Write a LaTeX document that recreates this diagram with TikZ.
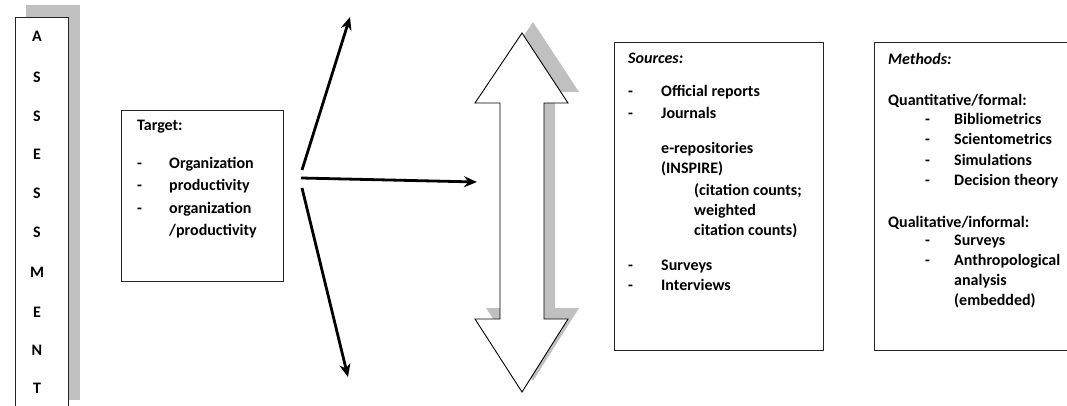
\documentclass[tikz,border=0pt]{standalone}
\usepackage{fontspec}
\setmainfont{Carlito}
\usetikzlibrary{arrows.meta}
\definecolor{shadowgray}{RGB}{192,192,192}
\tikzset{
 txt/.style={anchor=mid west, inner sep=0pt, font=\fontsize{16}{20}\selectfont\bfseries},
 letter/.style={anchor=center, inner sep=0pt, font=\fontsize{16}{20}\selectfont\bfseries},
 frame/.style={draw=black!85, line width=1.3pt, anchor=north west, inner sep=0pt},
 bigarrow/.style={-{Stealth[length=13pt,width=11pt]}, line width=2.8pt},
 shadowfill/.style={fill=shadowgray, draw=none},
 dbl/.style={draw=black, line width=0.9pt, fill=white, line join=miter},
}
\begin{document}
\begin{tikzpicture}[x=1pt,y=-1pt]
\useasboundingbox (0,0) rectangle (1067,406);
% ASSESSMENT column
\path[shadowfill] (26,5) rectangle (80,400);
\node[frame, fill=white, minimum width=53pt, minimum height=400pt] (assess) at (15,17) {};
\foreach \l/\y [count=\i] in {A/36,S/77,S/116,E/154,S/193,S/232,M/272,E/312,N/350,T/388}
  \node[letter] (L\i) at (37,\y) {\l};
% Target box
\node[frame, minimum width=162pt, minimum height=171pt] (target) at (121,110) {};
\node[txt] (tt) at (137,128) {Target:};
\node[txt] (td1) at (137,166) {-};
\node[txt] (t1) at (169,166) {Organization};
\node[txt] (td2) at (137,188) {-};
\node[txt] (t2) at (169,188) {productivity};
\node[txt] (td3) at (137,211) {-};
\node[txt] (t3) at (169,211) {organization};
\node[txt] (t4) at (169,233) {/productivity};
% Arrows
\coordinate (oU) at (302,170);
\coordinate (oM) at (301,178);
\coordinate (oD) at (302,188);
\coordinate (eU) at (350,17);
\coordinate (eM) at (477,182);
\coordinate (eD) at (348,377);
\draw[bigarrow] (oU) -- (eU);
\draw[bigarrow] (oM) -- (eM);
\draw[bigarrow] (oD) -- (eD);
% Double arrow with shadow
\begin{scope}[shift={(11,-11)}]
\path[shadowfill] (522,33) -- (568,103) -- (544,103) -- (544,319) -- (568,319) -- (522,392) -- (475,319) -- (500,319) -- (500,103) -- (475,103) -- cycle;
\end{scope}
\draw[dbl] (522,33) -- (568,103) -- (544,103) -- (544,319) -- (568,319) -- (522,392) -- (475,319) -- (500,319) -- (500,103) -- (475,103) -- cycle;
% Sources box
\node[frame, minimum width=209pt, minimum height=308pt] (sources) at (614,42) {};
\node[txt] (sh) at (628,61) {\itshape Sources:};
\node[txt] (sd1) at (628,94) {-};
\node[txt] (s1) at (661,94) {Official reports};
\node[txt] (sd2) at (628,116) {-};
\node[txt] (s2) at (661,116) {Journals};
\node[txt] (s3) at (661,151) {e-repositories};
\node[txt] (s4) at (661,171) {(INSPIRE)};
\node[txt] (s5) at (694,193) {(citation counts;};
\node[txt] (s6) at (694,213) {weighted};
\node[txt] (s7) at (694,233) {citation counts)};
\node[txt] (sd8) at (628,268) {-};
\node[txt] (s8) at (661,268) {Surveys};
\node[txt] (sd9) at (628,288) {-};
\node[txt] (s9) at (661,288) {Interviews};
% Methods box
\node[frame, minimum width=220pt, minimum height=308pt] (methods) at (874,42) {};
\node[txt] (mh) at (888,62) {\itshape Methods:};
\node[txt] (q) at (888,103) {Quantitative/formal:};
\node[txt] (md1) at (925,122) {-};
\node[txt] (m1) at (954,122) {Bibliometrics};
\node[txt] (md2) at (925,142) {-};
\node[txt] (m2) at (954,142) {Scientometrics};
\node[txt] (md3) at (925,163) {-};
\node[txt] (m3) at (954,163) {Simulations};
\node[txt] (md4) at (925,183) {-};
\node[txt] (m4) at (954,183) {Decision theory};
\node[txt] (ql) at (888,225) {Qualitative/informal:};
\node[txt] (md5) at (925,243) {-};
\node[txt] (m5) at (954,243) {Surveys};
\node[txt] (md6) at (925,263) {-};
\node[txt] (m6) at (954,263) {Anthropological};
\node[txt] (m7) at (954,283) {analysis};
\node[txt] (m8) at (954,303) {(embedded)};
\end{tikzpicture}
\end{document}
